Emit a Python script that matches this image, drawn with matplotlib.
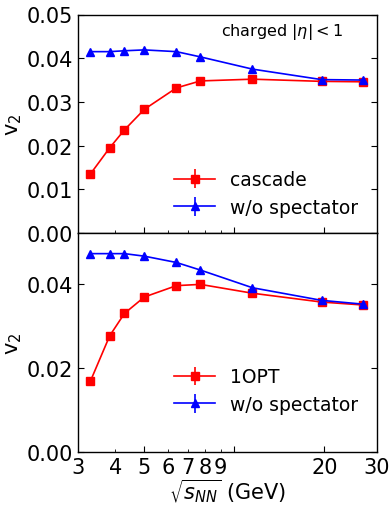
import matplotlib
matplotlib.use("Agg")
import matplotlib.pyplot as plt
from matplotlib.ticker import FixedLocator, FuncFormatter

# data
energy = [3.3, 3.83, 4.29, 5.0, 6.4, 7.7, 11.5, 19.6, 27.0]
cascade_v2 = [0.0135, 0.0195, 0.0236, 0.0283, 0.0332, 0.0348, 0.0352, 0.0347, 0.0346]
cascade_nospec_v2 = [0.0415, 0.0415, 0.0417, 0.0419, 0.0415, 0.0403, 0.0375, 0.0351, 0.0350]
opt_v2 = [0.0168, 0.0276, 0.0329, 0.0368, 0.0395, 0.0398, 0.0377, 0.0356, 0.0349]
opt_nospec_v2 = [0.0471, 0.0471, 0.0471, 0.0465, 0.0450, 0.0432, 0.0390, 0.0360, 0.0351]
err0 = [0.0] * 9

major_x = [5, 10, 20]
minor_x = [3, 4, 6, 7, 8, 9, 30]

TICK_FS = 15
LEG_FS = 13.5

fig = plt.figure(figsize=(3.92, 5.10), dpi=100)
L, R = 78 / 392, 377 / 392
top_t, mid, bot = 1 - 15.5 / 510, 1 - 234 / 510, 1 - 453 / 510
ax1 = fig.add_axes([L, mid, R - L, top_t - mid])
ax2 = fig.add_axes([L, bot, R - L, mid - bot], sharex=ax1)

def style(ax):
    ax.set_xscale('log')
    ax.set_xlim(3, 30)
    ax.xaxis.set_major_locator(FixedLocator(major_x))
    ax.xaxis.set_minor_locator(FixedLocator(minor_x))
    ax.tick_params(axis='both', which='both', direction='in', labelsize=TICK_FS)
    ax.tick_params(axis='y', which='major', right=True, length=4)
    ax.tick_params(axis='x', which='major', length=4)
    ax.tick_params(axis='x', which='minor', length=2)
    for s in ax.spines.values():
        s.set_linewidth(1.0)

for ax in (ax1, ax2):
    style(ax)

MS = 6
ax1.errorbar(energy, cascade_v2, yerr=err0, color='red', marker='s', ms=MS,
             lw=1.2, label='cascade')
ax1.errorbar(energy, cascade_nospec_v2, yerr=err0, color='blue', marker='^', ms=MS,
             lw=1.2, label='w/o spectator')
ax1.set_ylim(0, 0.05)
ax1.set_yticks([0.0, 0.01, 0.02, 0.03, 0.04, 0.05])
ax1.set_yticklabels(['0.00', '0.01', '0.02', '0.03', '0.04', '0.05'])
ax1.set_ylabel('v$_2$', fontsize=TICK_FS, labelpad=2)
ax1.tick_params(axis='x', which='both', labelbottom=False)
ax1.text(0.886, 0.972, r'charged $|\eta| < 1$', transform=ax1.transAxes,
         ha='right', va='top', fontsize=11.5)
ax1.legend(loc='lower left', bbox_to_anchor=(0.277, 0.014), frameon=False, fontsize=LEG_FS,
           handlelength=2.2, borderaxespad=0.3, labelspacing=0.45)

ax2.errorbar(energy, opt_v2, yerr=err0, color='red', marker='s', ms=MS,
             lw=1.2, label='1OPT')
ax2.errorbar(energy, opt_nospec_v2, yerr=err0, color='blue', marker='^', ms=MS,
             lw=1.2, label='w/o spectator')
ax2.set_ylim(0, 0.052)
ax2.set_yticks([0.0, 0.02, 0.04])
ax2.set_yticklabels(['0.00', '0.02', '0.04'])
ax2.set_ylabel('v$_2$', fontsize=TICK_FS, labelpad=2)
ax2.xaxis.set_major_formatter(FuncFormatter(lambda v, p: '' if abs(v - 10) < 1e-6 else '%d' % round(v)))
ax2.xaxis.set_minor_formatter(FuncFormatter(lambda v, p: '%d' % round(v)))
ax2.set_xlabel(r'$\sqrt{s_{NN}}$ (GeV)', fontsize=TICK_FS, labelpad=0)
ax2.legend(loc='lower left', bbox_to_anchor=(0.277, 0.114), frameon=False, fontsize=LEG_FS,
           handlelength=2.2, borderaxespad=0.3, labelspacing=0.45)

fig.savefig('out.png', dpi=100)
